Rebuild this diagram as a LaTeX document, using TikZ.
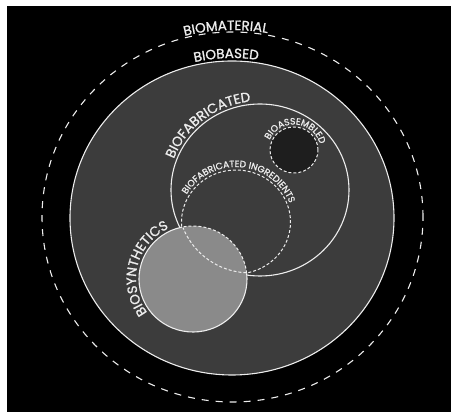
\documentclass[tikz,border=0pt]{standalone}
\usepackage{fontspec}
\setmainfont{Poppins}
\newfontfamily\labelfont{Poppins}[FakeBold=1.2]
\usepackage{tikz}
\usetikzlibrary{decorations.text}
\usepackage{xcolor}
\definecolor{bgblack}{HTML}{000000}
\definecolor{basegray}{HTML}{3C3C3C}
\definecolor{assemblydark}{HTML}{1E1E1E}
\definecolor{synthgray}{HTML}{8A8A8A}
\definecolor{ringwhite}{HTML}{EDEDED}
\newcommand{\biglabel}{\color{ringwhite}\labelfont\fontsize{13.5}{13.5}\selectfont}
\newcommand{\smalllabel}{\color{ringwhite}\labelfont\fontsize{9.2}{9.2}\selectfont}

\begin{document}
\begin{tikzpicture}[
  x=1pt, y=1pt,
  ringsolid/.style={draw=ringwhite, line width=1.1pt},
  ringdashed/.style={draw=ringwhite, line width=1.1pt, dash pattern=on 7pt off 7pt},
  ringdotted/.style={draw=ringwhite, line width=1pt, dash pattern=on 3pt off 2pt},
  arclabel/.style={decorate, decoration={text along path, text align=center, text={#1}}}
]
  \useasboundingbox (0,0) rectangle (451,412);
  \fill[bgblack] (7,0) rectangle (451,406);

  % centres
  \coordinate (material) at (232.5,195);
  \coordinate (based) at (232,194);
  \coordinate (fabricated) at (260,222);
  \coordinate (assembled) at (294,262);
  \coordinate (ingredients) at (236,190);
  \coordinate (synthetics) at (193,133);

  % Biomaterial (outer dashed ring)
  \draw[ringdashed] (material) ellipse [x radius=190.5, y radius=185];
  \path[arclabel={|\biglabel|BIOMATERIAL}]
    ([shift={(142:192 and 187)}]material) arc [start angle=142, end angle=42, x radius=192, y radius=187];

  % Biobased
  \filldraw[ringsolid, fill=basegray] (based) ellipse [x radius=162, y radius=157];
  \path[arclabel={|\biglabel|BIOBASED}]
    ([shift={(130:165 and 160)}]based) arc [start angle=130, end angle=54, x radius=165, y radius=160];

  % Biofabricated
  \draw[ringsolid] (fabricated) ellipse [x radius=89, y radius=86];
  \path[arclabel={|\biglabel|BIOFABRICATED}]
    ([shift={(182:92 and 89)}]fabricated) arc [start angle=182, end angle=74, x radius=92, y radius=89];

  % Bioassembled
  \filldraw[ringdotted, fill=assemblydark] (assembled) ellipse [x radius=24, y radius=23];
  \path[arclabel={|\smalllabel|BIOASSEMBLED}]
    ([shift={(200:26.5 and 25.5)}]assembled) arc [start angle=200, end angle=-30, x radius=26.5, y radius=25.5];

  % Biosynthetics (dashed where it lies inside the ingredients ring)
  \fill[synthgray] (synthetics) ellipse [x radius=54, y radius=53];
  \draw[ringsolid] ([shift={(102:54 and 53)}]synthetics) arc [start angle=102, end angle=366, x radius=54, y radius=53];
  \draw[ringdotted] ([shift={(6:54 and 53)}]synthetics) arc [start angle=6, end angle=102, x radius=54, y radius=53];
  \path[arclabel={|\biglabel|BIOSYNTHETICS}]
    ([shift={(232:57 and 56)}]synthetics) arc [start angle=232, end angle=100, x radius=57, y radius=56];

  % Biofabricated ingredients
  \draw[ringdotted] ([shift={(185:54.5 and 52)}]ingredients)
    arc [start angle=185, end angle=-78, x radius=54.5, y radius=52]
    arc [start angle=268, end angle=202, radius=72];
  \path[arclabel={|\smalllabel|BIOFABRICATED INGREDIENTS}]
    ([shift={(192:57 and 55)}]ingredients) arc [start angle=192, end angle=-22, x radius=57, y radius=55];

\end{tikzpicture}
\end{document}
